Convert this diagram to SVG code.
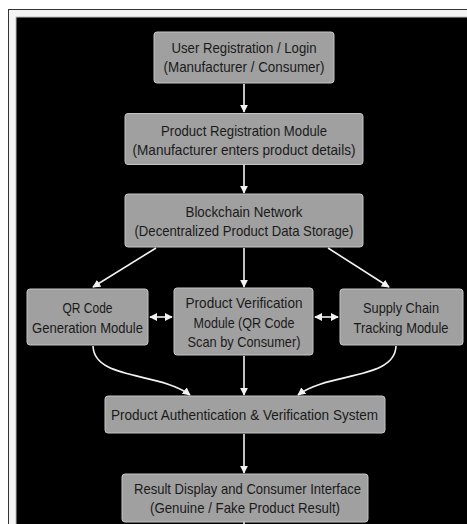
<svg xmlns="http://www.w3.org/2000/svg" width="467" height="524" viewBox="0 0 467 524">
<style>
.box{fill:#a0a0a0;stroke:#c4c4c4;stroke-width:1}
.t{font-family:"Liberation Sans",Arial,sans-serif;font-size:15px;fill:#1a1a1a;text-anchor:middle}
.c{fill:none;stroke:#f2f2f2;stroke-width:1.6}
</style>
<defs>
<marker id="ah" viewBox="0 0 10 10" refX="9" refY="5" markerWidth="8" markerHeight="8" markerUnits="userSpaceOnUse" orient="auto-start-reverse">
<path d="M0,0 L10,5 L0,10 z" fill="#f2f2f2"/>
</marker>
</defs>
<rect x="0" y="0" width="467" height="524" fill="#ffffff"/>
<rect x="8.5" y="9.5" width="470" height="530" fill="#f4f4f4" stroke="#333" stroke-width="1"/>
<rect x="16" y="17" width="460" height="520" fill="#000000" stroke="#bdbdbd" stroke-width="1"/>

<g id="connectors">
<line class="c" x1="244" y1="84" x2="244" y2="112" marker-end="url(#ah)"/>
<line class="c" x1="244" y1="165" x2="244" y2="193" marker-end="url(#ah)"/>
<line class="c" x1="156" y1="248" x2="93" y2="287" marker-end="url(#ah)"/>
<line class="c" x1="244" y1="248" x2="244" y2="287" marker-end="url(#ah)"/>
<line class="c" x1="328" y1="248" x2="389" y2="287" marker-end="url(#ah)"/>
<line class="c" x1="150" y1="317" x2="172" y2="317" marker-start="url(#ah)" marker-end="url(#ah)"/>
<line class="c" x1="315" y1="317" x2="338" y2="317" marker-start="url(#ah)" marker-end="url(#ah)"/>
<path class="c" d="M93,346 C94,380 160,372 190,395" marker-end="url(#ah)"/>
<line class="c" x1="244" y1="356" x2="244" y2="395" marker-end="url(#ah)"/>
<path class="c" d="M396,346 C395,380 328,372 298,395" marker-end="url(#ah)"/>
<line class="c" x1="244" y1="434" x2="244" y2="473" marker-end="url(#ah)"/>
<line class="c" x1="244" y1="522" x2="244" y2="524"/>
</g>

<g id="n1">
<rect class="box" x="154" y="32" width="180" height="51" rx="3"/>
<text class="t" x="244" y="53" textLength="145" lengthAdjust="spacingAndGlyphs">User Registration / Login</text>
<text class="t" x="244" y="72" textLength="161" lengthAdjust="spacingAndGlyphs">(Manufacturer / Consumer)</text>
</g>
<g id="n2">
<rect class="box" x="125" y="113.5" width="238" height="51" rx="3"/>
<text class="t" x="244" y="136" textLength="166" lengthAdjust="spacingAndGlyphs">Product Registration Module</text>
<text class="t" x="244" y="155" textLength="223" lengthAdjust="spacingAndGlyphs">(Manufacturer enters product details)</text>
</g>
<g id="n3">
<rect class="box" x="125" y="194" width="238" height="53" rx="3"/>
<text class="t" x="244" y="217" textLength="117" lengthAdjust="spacingAndGlyphs">Blockchain Network</text>
<text class="t" x="244" y="236" textLength="219" lengthAdjust="spacingAndGlyphs">(Decentralized Product Data Storage)</text>
</g>
<g id="n4">
<rect class="box" x="27" y="289" width="121" height="56" rx="3"/>
<text class="t" x="87.5" y="313" textLength="50" lengthAdjust="spacingAndGlyphs">QR Code</text>
<text class="t" x="87.5" y="333" textLength="111" lengthAdjust="spacingAndGlyphs">Generation Module</text>
</g>
<g id="n5">
<rect class="box" x="174" y="288" width="139" height="67" rx="3"/>
<text class="t" x="244" y="308" textLength="117" lengthAdjust="spacingAndGlyphs">Product Verification</text>
<text class="t" x="244" y="328" textLength="101" lengthAdjust="spacingAndGlyphs">Module (QR Code</text>
<text class="t" x="244" y="347" textLength="113" lengthAdjust="spacingAndGlyphs">Scan by Consumer)</text>
</g>
<g id="n6">
<rect class="box" x="340" y="289" width="123" height="56" rx="3"/>
<text class="t" x="401" y="313" textLength="76" lengthAdjust="spacingAndGlyphs">Supply Chain</text>
<text class="t" x="401" y="333" textLength="95" lengthAdjust="spacingAndGlyphs">Tracking Module</text>
</g>
<g id="n7">
<rect class="box" x="105" y="396" width="280" height="37" rx="3"/>
<text class="t" x="244.5" y="420" textLength="267" lengthAdjust="spacingAndGlyphs">Product Authentication &amp; Verification System</text>
</g>
<g id="n8">
<rect class="box" x="122" y="474" width="246" height="48" rx="3"/>
<text class="t" x="247.5" y="494" textLength="227" lengthAdjust="spacingAndGlyphs">Result Display and Consumer Interface</text>
<text class="t" x="245" y="513" textLength="190" lengthAdjust="spacingAndGlyphs">(Genuine / Fake Product Result)</text>
</g>
</svg>
